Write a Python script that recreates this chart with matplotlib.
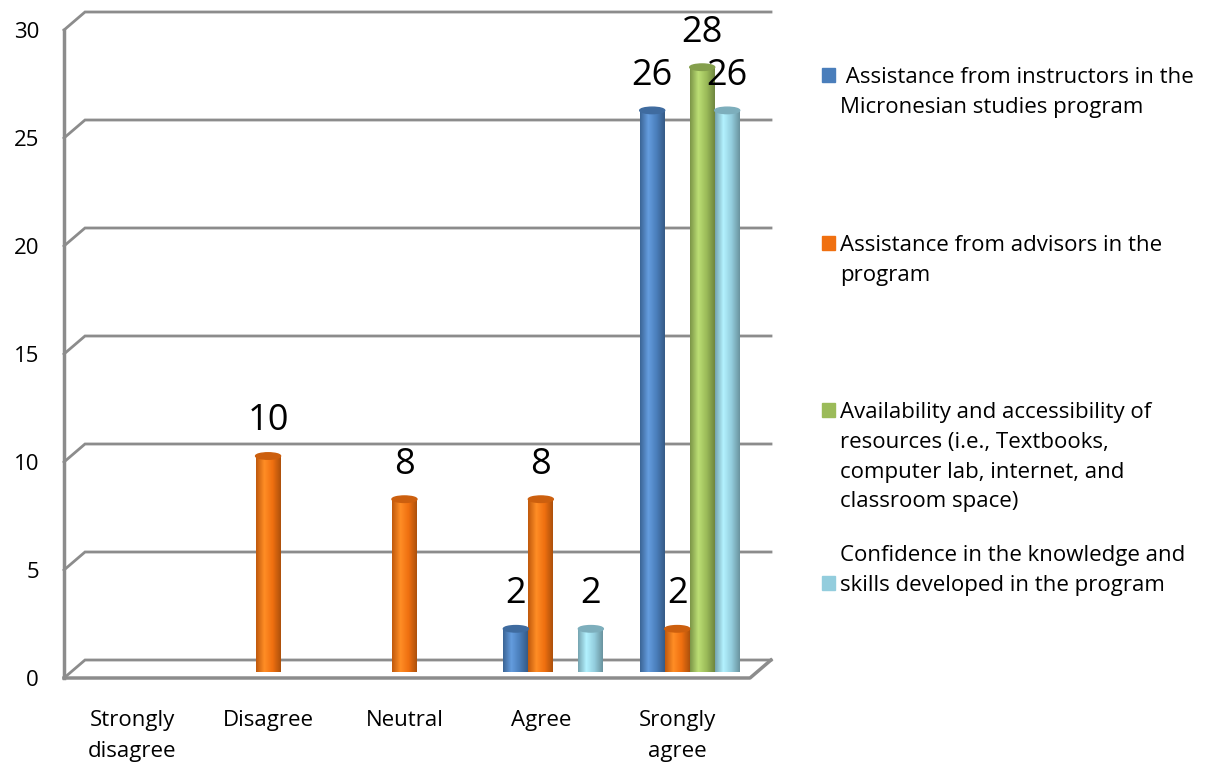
import matplotlib.pyplot as plt
import numpy as np
from matplotlib.colors import LinearSegmentedColormap, to_rgb
from matplotlib.patches import Ellipse, Rectangle

categories = ["Strongly\ndisagree", "Disagree", "Neutral", "Agree", "Srongly\nagree"]
instructors = [0, 0, 0, 2, 26]
advisors = [0, 10, 8, 8, 2]
resources = [0, 0, 0, 0, 28]
confidence = [0, 0, 0, 2, 26]
series_names = [
    " Assistance from instructors in the\nMicronesian studies program",
    "Assistance from advisors in the\nprogram",
    "Availability and accessibility of\nresources (i.e., Textbooks,\ncomputer lab, internet, and\nclassroom space)",
    "Confidence in the knowledge and\nskills developed in the program",
]
yticks = [0, 5, 10, 15, 20, 25, 30]

series = [instructors, advisors, resources, confidence]
colors = ["#4A7EBB", "#F07010", "#9BBB59", "#93CDDD"]

plt.rcParams['font.family'] = ['Open Sans', 'DejaVu Sans']

fig = plt.figure(figsize=(12.18, 7.66), dpi=100)
W, H = 1218, 766
ax = fig.add_axes([64 / W, (766 - 678) / H, (750 - 64) / W, (678 - 30) / H])
x0, x1 = -0.5, 4.53
ax.set_xlim(x0, x1)
ax.set_ylim(0, 30)

# depth offsets (back wall) in data units
px_x = (x1 - x0) / (750 - 64)
px_y = 30 / (678 - 30)
ddx, ddy = 21 * px_x, 18 * px_y
grid_c = "#8C8C8C"

for v in yticks:
    ax.plot([x0, x0 + ddx, x1 + ddx], [v, v + ddy, v + ddy], color=grid_c,
            lw=2, clip_on=False, zorder=1, solid_joinstyle='miter')
ax.plot([x0, x0], [0, 30], color=grid_c, lw=2.5, clip_on=False, zorder=1)
ax.plot([x0, x1, x1 + ddx], [0, 0, ddy], color=grid_c, lw=2.5, clip_on=False, zorder=1)

# bars sit in the middle of the depth
bdx, bdy = 12 * px_x, 6 * px_y
w = 25 * px_x
xs = np.arange(len(categories))
for k, (vals, c) in enumerate(zip(series, colors)):
    base = np.array(to_rgb(c))
    cmap = LinearSegmentedColormap.from_list(
        "cyl", [base * 0.8, np.minimum(base * 1.08 + 0.08, 1), base, base * 0.72])
    for i, v in enumerate(vals):
        if v == 0:
            continue
        xc = xs[i] + bdx + (k - 1.5) * w
        bar = ax.bar(xc, v, width=w, bottom=bdy, color=c, zorder=3, clip_on=False)[0]
        grad = np.linspace(0, 1, 64).reshape(1, -1)
        im = ax.imshow(grad, extent=[xc - w / 2, xc + w / 2, bdy, bdy + v],
                       cmap=cmap, aspect='auto', zorder=3.1, clip_on=True)
        im.set_clip_path(bar)
        ax.add_patch(Ellipse((xc, bdy + v), w, 0.3, color=base * 0.85, zorder=3.2,
                             clip_on=False))
        ax.annotate(str(v), (xc, bdy + v), xytext=(0, 12), textcoords='offset points',
                    ha='center', va='bottom', fontsize=26, zorder=5,
                    annotation_clip=False)

ax.set_xlim(x0, x1)
ax.set_ylim(0, 30)
ax.set_xticks(xs)
ax.set_xticklabels(categories, fontsize=16, linespacing=1.6)
ax.set_yticks(yticks)
ax.tick_params(axis='x', length=0, pad=23)
ax.tick_params(axis='y', length=0, pad=18, labelsize=16)
for s in ax.spines.values():
    s.set_visible(False)
ax.patch.set_alpha(0)

# legend drawn by hand
leg_y = [75, 243, 410, 583]
txt_y = [75, 243, 410, 553]
for name, c, ly, ty in zip(series_names, colors, leg_y, txt_y):
    fig.patches.append(Rectangle((822 / W, 1 - (ly + 7) / H), 13 / W, 14 / H,
                                 color=c, transform=fig.transFigure, figure=fig))
    fig.text(840 / W, 1 - (ty - 8) / H, name, fontsize=16, va='top', ha='left',
             linespacing=1.55)

fig.savefig("out.png", dpi=100)
